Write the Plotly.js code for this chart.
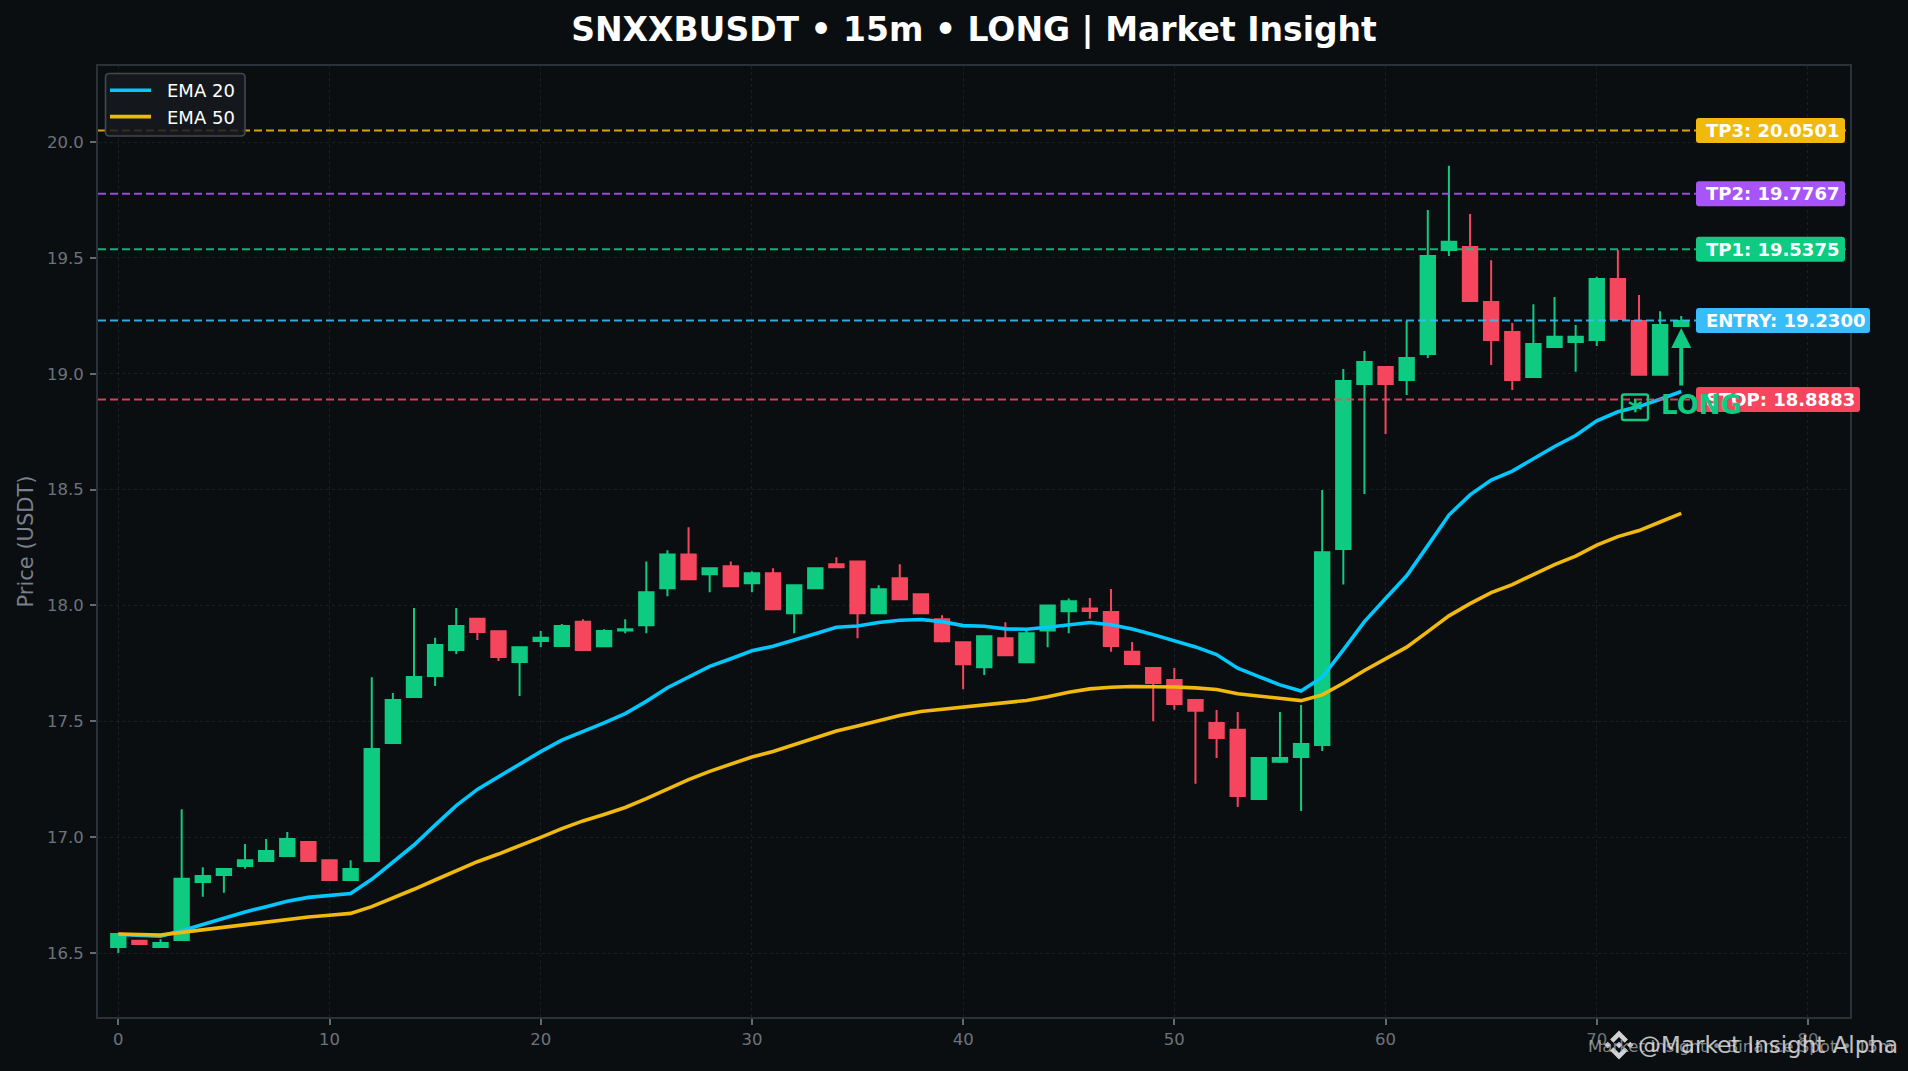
<!DOCTYPE html>
<html>
<head>
<meta charset="utf-8">
<script src="https://cdn.plot.ly/plotly-3.0.1.min.js"></script>
<style>html,body{margin:0;padding:0;background:#0B0E11;}#chart{width:1908px;height:1071px;}</style>
</head>
<body>
<div id="chart"></div>
<script>
const index = Array.from({length: 75}, (_, i) => i);
const open = [16.526,16.553,16.526,16.556,16.806,16.837,16.875,16.897,16.919,16.979,16.900,16.815,16.897,17.406,17.605,17.695,17.808,17.943,17.889,17.756,17.847,17.825,17.930,17.824,17.892,17.914,18.074,18.220,18.135,18.169,18.096,18.139,17.966,18.074,18.178,18.190,17.966,18.117,18.048,17.940,17.841,17.733,17.858,17.755,17.892,17.975,17.987,17.972,17.800,17.730,17.678,17.592,17.493,17.463,17.165,17.325,17.346,17.398,18.243,18.956,19.029,18.973,19.085,19.534,19.547,19.310,19.180,18.986,19.115,19.137,19.146,19.409,19.228,18.995,19.206];
const high = [16.582,16.553,16.559,17.120,16.870,16.862,16.970,16.992,17.022,16.979,16.900,16.900,17.690,17.622,17.989,17.860,17.989,17.943,17.889,17.820,17.890,17.920,17.940,17.897,17.940,18.190,18.238,18.337,18.160,18.190,18.147,18.160,18.087,18.160,18.208,18.190,18.087,18.178,18.048,17.958,17.841,17.867,17.927,17.890,18.000,18.030,18.032,18.071,17.842,17.730,17.730,17.592,17.549,17.540,17.342,17.540,17.570,18.498,19.020,19.098,19.029,19.228,19.707,19.897,19.689,19.490,19.219,19.300,19.331,19.210,19.418,19.534,19.340,19.270,19.249];
const low = [16.500,16.539,16.526,16.556,16.743,16.760,16.864,16.897,16.919,16.897,16.815,16.815,16.897,17.406,17.605,17.652,17.790,17.851,17.760,17.609,17.820,17.825,17.808,17.824,17.880,17.880,18.040,18.113,18.057,18.083,18.057,17.983,17.880,18.074,18.165,17.858,17.966,18.027,17.966,17.840,17.638,17.700,17.785,17.755,17.820,17.880,17.942,17.800,17.747,17.500,17.550,17.230,17.342,17.130,17.165,17.320,17.113,17.372,18.090,18.481,18.740,18.908,19.068,19.508,19.314,19.038,18.930,18.986,19.115,19.008,19.120,19.236,18.995,18.995,19.206];
const close = [16.582,16.539,16.543,16.820,16.832,16.862,16.900,16.940,16.992,16.897,16.815,16.862,17.380,17.592,17.691,17.829,17.911,17.885,17.777,17.820,17.860,17.911,17.808,17.890,17.897,18.057,18.220,18.113,18.160,18.083,18.139,17.983,18.087,18.160,18.165,17.966,18.070,18.027,17.966,17.845,17.746,17.867,17.785,17.880,18.000,18.018,17.976,17.825,17.747,17.665,17.575,17.545,17.428,17.178,17.342,17.342,17.402,18.230,18.969,19.051,18.956,19.068,19.508,19.569,19.314,19.146,18.973,19.128,19.159,19.159,19.409,19.236,18.995,19.210,19.228];
const ema20 = [16.580,16.575,16.573,16.596,16.624,16.650,16.677,16.700,16.723,16.740,16.747,16.757,16.818,16.890,16.966,17.052,17.136,17.206,17.261,17.317,17.369,17.419,17.454,17.493,17.533,17.586,17.645,17.691,17.737,17.770,17.804,17.824,17.850,17.878,17.906,17.911,17.926,17.936,17.939,17.930,17.913,17.910,17.899,17.897,17.906,17.916,17.926,17.917,17.898,17.874,17.847,17.821,17.788,17.729,17.693,17.657,17.631,17.690,17.808,17.930,18.030,18.128,18.258,18.390,18.477,18.541,18.580,18.633,18.686,18.733,18.797,18.836,18.858,18.890,18.923];
const ema50 = [16.582,16.580,16.578,16.589,16.600,16.609,16.620,16.634,16.645,16.655,16.663,16.671,16.700,16.736,16.775,16.815,16.855,16.894,16.927,16.962,16.999,17.037,17.070,17.098,17.128,17.166,17.209,17.248,17.284,17.316,17.346,17.370,17.400,17.430,17.458,17.480,17.504,17.525,17.542,17.552,17.559,17.572,17.580,17.590,17.606,17.625,17.640,17.647,17.650,17.650,17.648,17.644,17.637,17.619,17.609,17.598,17.589,17.614,17.664,17.719,17.768,17.820,17.887,17.955,18.008,18.055,18.090,18.135,18.176,18.213,18.260,18.297,18.323,18.360,18.397];
const levelNames = ['TP3','TP2','TP1','ENTRY','STOP'];
const levelValues = [20.0501,19.7767,19.5375,19.2300,18.8883];
const levelText = ['20.0501','19.7767','19.5375','19.2300','18.8883'];
const levelColors = ['#F0B90B','#A855F7','#0ECB81','#38BDF8','#F6465D'];
const levelLineColors = ['rgba(240,185,11,0.88)','rgba(168,85,247,0.88)','rgba(14,203,129,0.88)','rgba(56,189,248,0.88)','rgba(246,70,93,0.88)'];
const labelWidths = [149,149,149,174,164];

const W = 1908, H = 1071, L = 98, R = 1850, T = 66, B = 1017;
const px = x => (x - L) / (R - L);
const py = y => 1 - (y - T) / (B - T);

function roundRect(w, h, r) {
  const t = h / 2;
  return `M${r},${-t}L${w - r},${-t}Q${w},${-t} ${w},${-t + r}L${w},${t - r}Q${w},${t} ${w - r},${t}L${r},${t}Q0,${t} 0,${t - r}L0,${-t + r}Q0,${-t} ${r},${-t}Z`;
}
function paperRoundRect(x0, y0, x1, y1, r) {
  const a = (x, y) => `${px(x)},${py(y)}`;
  return `M${a(x0 + r, y0)}L${a(x1 - r, y0)}Q${a(x1, y0)} ${a(x1, y0 + r)}L${a(x1, y1 - r)}Q${a(x1, y1)} ${a(x1 - r, y1)}L${a(x0 + r, y1)}Q${a(x0, y1)} ${a(x0, y1 - r)}L${a(x0, y0 + r)}Q${a(x0, y0)} ${a(x0 + r, y0)}Z`;
}
function logoPath(cx, cy, size) {
  const s = size / 126.61;
  const polys = [
    [[38.73,53.2],[63.31,28.63],[87.9,53.21],[102.2,38.91],[63.31,0],[24.43,38.9]],
    [[0,63.31],[14.3,49.01],[28.6,63.31],[14.3,77.61]],
    [[63.31,48.81],[77.81,63.3],[63.31,77.81],[48.81,63.31]],
    [[98,63.31],[112.3,49.01],[126.6,63.31],[112.3,77.61]],
    [[87.9,73.41],[63.31,97.99],[38.73,73.41],[24.43,87.7],[63.31,126.61],[102.2,87.7]]
  ];
  return polys.map(p => 'M' + p.map(q => `${px(cx + (q[0] - 63.3) * s)},${py(cy + (q[1] - 63.3) * s)}`).join('L') + 'Z').join('');
}

const traces = [
  {type:'candlestick', x:index, open:open, high:high, low:low, close:close, showlegend:false, hoverinfo:'skip', whiskerwidth:0,
   increasing:{line:{color:'#0ECB81', width:2}, fillcolor:'#0ECB81'},
   decreasing:{line:{color:'#F6465D', width:2}, fillcolor:'#F6465D'}},
  {type:'scatter', mode:'lines', x:index, y:ema20, name:'EMA 20', line:{color:'#00C8FF', width:3.6}, hoverinfo:'skip'},
  {type:'scatter', mode:'lines', x:index, y:ema50, name:'EMA 50', line:{color:'#F0B90B', width:3.6}, hoverinfo:'skip'}
];

const shapes = [];
levelValues.forEach((v, i) => {
  shapes.push({type:'line', xref:'paper', yref:'y', x0:0, x1:1, y0:v, y1:v, layer:'above',
    line:{color:levelLineColors[i], width:2, dash:'8px,4px'}});
});
levelValues.forEach((v, i) => {
  shapes.push({type:'path', xref:'paper', yref:'y', xsizemode:'pixel', ysizemode:'pixel', xanchor:px(1696), yanchor:v, layer:'above',
    path:roundRect(labelWidths[i], 25, 3), fillcolor:levelColors[i], line:{width:0}});
});
shapes.push({type:'path', xref:'paper', yref:'paper', layer:'above', path:paperRoundRect(105.5, 73.5, 245, 136, 4),
  fillcolor:'rgba(22,26,32,0.85)', line:{color:'#44484e', width:1.6}});
shapes.push({type:'path', xref:'paper', yref:'paper', layer:'above', path:paperRoundRect(1622, 394.5, 1648, 420, 2),
  fillcolor:'rgba(0,0,0,0)', line:{color:'#0ECB81', width:2.4}});
shapes.push({type:'path', xref:'paper', yref:'paper', layer:'above', path:logoPath(1619, 1045, 29),
  fillcolor:'rgba(232,232,232,0.9)', line:{width:0}});

const annotations = [];
levelValues.forEach((v, i) => {
  annotations.push({xref:'paper', yref:'y', x:px(1705), y:v, xanchor:'left', yanchor:'middle', showarrow:false, borderpad:0,
    text:`${levelNames[i]}: ${levelText[i]}`, font:{family:'DejaVu Sans', size:18, color:'#FFFFFF', weight:'bold'}});
});
annotations.push({xref:'x', yref:'y', axref:'x', ayref:'y', x:74, y:19.197, ax:74, ay:18.943, text:'', showarrow:true,
  arrowhead:2, arrowsize:1, arrowwidth:4, arrowcolor:'#0ECB81'});
annotations.push({xref:'paper', yref:'paper', x:px(1635), y:py(410), xanchor:'center', yanchor:'middle', showarrow:false, borderpad:0,
  text:'*', font:{family:'DejaVu Sans', size:28, color:'#0ECB81', weight:'bold'}});
annotations.push({xref:'paper', yref:'paper', x:px(1660), y:py(405), xanchor:'left', yanchor:'middle', showarrow:false, borderpad:0,
  text:'LONG', font:{family:'DejaVu Sans', size:26, color:'#0ECB81', weight:'bold'}});
annotations.push({xref:'paper', yref:'paper', x:px(1587), y:py(1046), xanchor:'left', yanchor:'middle', showarrow:false, borderpad:0,
  text:'Market Insight • Binance Spot • 15m', font:{family:'DejaVu Sans', size:16.6, color:'rgba(170,175,180,0.75)'}});
annotations.push({xref:'paper', yref:'paper', x:px(1637), y:py(1045), xanchor:'left', yanchor:'middle', showarrow:false, borderpad:0,
  text:'@Market Insight Alpha', font:{family:'DejaVu Sans', size:23, color:'rgba(225,225,225,0.85)'}});

const axisCommon = {
  showline:true, mirror:true, linecolor:'#2B3139', linewidth:2,
  gridcolor:'rgba(255,255,255,0.07)', griddash:'dot', gridwidth:1,
  ticks:'outside', ticklen:6, tickwidth:1.5, tickcolor:'#646a72',
  zeroline:false, tickfont:{family:'DejaVu Sans', size:16.5, color:'#6d737b'}
};

const layout = {
  width:W, height:H,
  paper_bgcolor:'#0B0E11', plot_bgcolor:'#0B0E11',
  margin:{l:L, r:W - R, t:T, b:H - B, pad:0},
  font:{family:'DejaVu Sans'},
  hovermode:false, dragmode:false,
  boxgap:0, boxgroupgap:0.32,
  title:{text:'SNXXBUSDT • 15m • LONG | Market Insight', xref:'paper', x:0.5, xanchor:'center', yref:'container', y:1 - 29 / H, yanchor:'middle',
    font:{family:'DejaVu Sans', size:33, color:'#FFFFFF', weight:'bold'}},
  xaxis:Object.assign({}, axisCommon, {range:[-0.961, 81.99], tick0:0, dtick:10, rangeslider:{visible:false}, tickformat:'d'}),
  yaxis:Object.assign({}, axisCommon, {range:[16.2238, 20.328], tick0:16.5, dtick:0.5, tickformat:'.1f', ticklabelstandoff:3,
    title:{text:'Price (USDT)', standoff:8, font:{family:'DejaVu Sans', size:21, color:'#7a8089'}}}),
  showlegend:true,
  legend:{x:px(105), y:py(72), xanchor:'left', yanchor:'top', bgcolor:'rgba(0,0,0,0)', borderwidth:0,
    itemwidth:41, font:{family:'DejaVu Sans', size:18, color:'#FFFFFF'}},
  shapes:shapes, annotations:annotations
};

Plotly.newPlot('chart', traces, layout, {displayModeBar:false}).then(gd => {
  const box = gd.querySelector('.legend .scrollbox');
  if (box) { box.removeAttribute('clip-path'); box.style.clipPath = 'none'; }
  gd.querySelectorAll('.legendtext').forEach(t => t.setAttribute('x', +t.getAttribute('x') + 11));
});
</script>
</body>
</html>
